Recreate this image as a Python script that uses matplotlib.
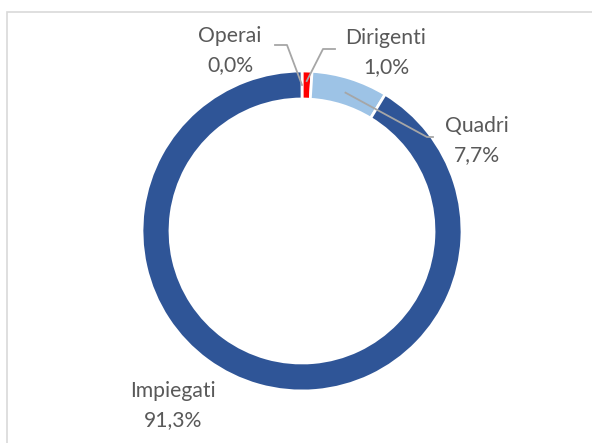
import numpy as np
import matplotlib
matplotlib.use('Agg')
import matplotlib.pyplot as plt
from matplotlib.patches import Rectangle

# dati
categorie = ['Operai', 'Dirigenti', 'Quadri', 'Impiegati']
valori = [0.0, 1.0, 7.7, 91.3]
colori = ['#A5A5A5', '#FF0000', '#9DC3E6', '#2F5597']

W, H = 592, 443

# posizioni in pixel dall'alto (baseline prima riga) e gomiti delle linee guida
pos_testo = {'Operai': (230, 42), 'Dirigenti': (386, 44),
             'Quadri': (477, 132), 'Impiegati': (173, 397)}
gomiti = {'Operai': [(275, 45), (287, 45)],
          'Dirigenti': [(335, 49), (323, 49)],
          'Quadri': [(433, 137), (427, 137)]}
raggio_guida = {'Operai': 146, 'Dirigenti': 150, 'Quadri': 145}


def py(y):
    # da pixel (origine in alto) a coordinate dati
    return H - y


fig = plt.figure(figsize=(W / 100, H / 100), dpi=100)
ax = fig.add_axes([0, 0, 1, 1])

cx, cy, R = 302, py(231), 160
wedges, _ = ax.pie(valori, colors=colori, startangle=90, counterclock=False,
                   radius=R, center=(cx, cy),
                   wedgeprops=dict(width=28, edgecolor='white', linewidth=2))
ax.set_xlim(0, W)
ax.set_ylim(0, H)
ax.set_aspect('equal')
ax.axis('off')

ax.add_patch(Rectangle((7, py(12) - 460), 620, 460, fill=False,
                       edgecolor='#D9D9D9', lw=1.2))

grigio_testo = '#595959'
grigio_linea = '#A6A6A6'
for cat, v, w in zip(categorie, valori, wedges):
    x, y = pos_testo[cat]
    ax.text(x, py(y), cat, ha='center', va='baseline', fontsize=15.2,
            family='Lato', color=grigio_testo)
    ax.text(x, py(y + 29), f"{v:.1f}%".replace('.', ','), ha='center',
            va='baseline', fontsize=15.2, family='Lato', color=grigio_testo)
    if cat in gomiti:
        ang = np.deg2rad((w.theta1 + w.theta2) / 2)
        r = raggio_guida[cat]
        pts = [(gx, py(gy)) for gx, gy in gomiti[cat]]
        pts.append((cx + r * np.cos(ang), cy + r * np.sin(ang)))
        ax.plot([p[0] for p in pts], [p[1] for p in pts], color=grigio_linea, lw=1.3)

fig.savefig('out.png', dpi=100)
